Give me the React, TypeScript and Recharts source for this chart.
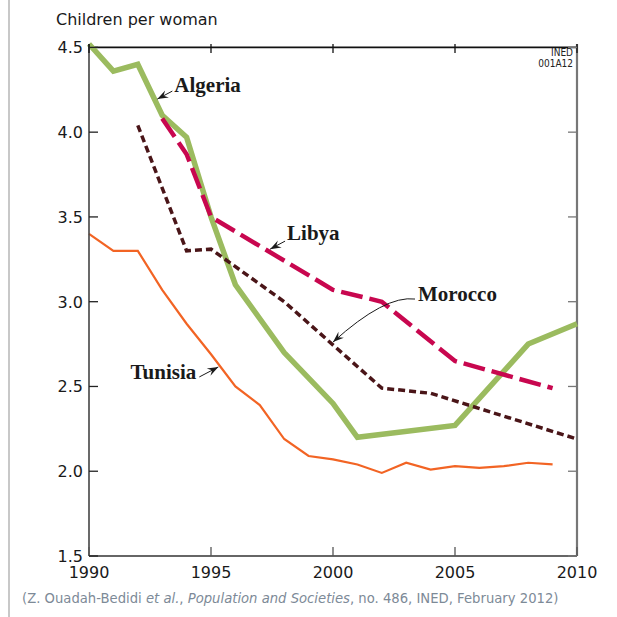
import React from "react";
import { LineChart, Line, XAxis, YAxis, ReferenceLine, ReferenceDot } from "recharts";

// Total fertility rate, Maghreb countries
const algeriaYears = [1990, 1991, 1992, 1993, 1994, 1995, 1996, 1998, 2000, 2001, 2005, 2008, 2010];
const algeriaTfr = [4.52, 4.36, 4.4, 4.1, 3.97, 3.5, 3.1, 2.7, 2.4, 2.2, 2.27, 2.75, 2.87];

const libyaYears = [1993, 1994, 1995, 2000, 2002, 2005, 2009];
const libyaTfr = [4.08, 3.87, 3.5, 3.07, 3.0, 2.65, 2.49];

const moroccoYears = [1992, 1994, 1995, 1998, 2002, 2004, 2010];
const moroccoTfr = [4.04, 3.3, 3.31, 3.0, 2.49, 2.46, 2.19];

const tunisiaYears = [
  1990, 1991, 1992, 1993, 1994, 1995, 1996, 1997, 1998, 1999,
  2000, 2001, 2002, 2003, 2004, 2005, 2006, 2007, 2008, 2009,
];
const tunisiaTfr = [
  3.4, 3.3, 3.3, 3.07, 2.87, 2.69, 2.5, 2.39, 2.19, 2.09,
  2.07, 2.04, 1.99, 2.05, 2.01, 2.03, 2.02, 2.03, 2.05, 2.04,
];

const xTicks = [1990, 1995, 2000, 2005, 2010];
const yTicks = [1.5, 2.0, 2.5, 3.0, 3.5, 4.0, 4.5];

const toRows = (years: number[], values: number[]) =>
  years.map((year, i) => ({ year, tfr: values[i] }));

const algeria = toRows(algeriaYears, algeriaTfr);
const libya = toRows(libyaYears, libyaTfr);
const morocco = toRows(moroccoYears, moroccoTfr);
const tunisia = toRows(tunisiaYears, tunisiaTfr);

const W = 617;
const H = 617;
const PLOT = { left: 89, top: 44, right: 577, bottom: 556 };
const AXIS_W = 40;
const AXIS_H = 30;
const TICK = 9;
const SANS = "'DejaVu Sans', sans-serif";
const SERIF = "'Liberation Serif', 'Times New Roman', serif";
const NARROW = "'Liberation Sans Narrow', 'DejaVu Sans Condensed', sans-serif";

const XTick = (props: any) => {
  const { x, payload } = props;
  return (
    <g>
      <line x1={x} x2={x} y1={PLOT.bottom} y2={PLOT.bottom - TICK} stroke="#555" strokeWidth={1.3} />
      <line x1={x} x2={x} y1={PLOT.top} y2={PLOT.top + TICK} stroke="#111" strokeWidth={1.3} />
      <text x={x} y={PLOT.bottom + 22} textAnchor="middle" fontFamily={SANS} fontSize={16} fill="#1a1a1a">
        {payload.value}
      </text>
    </g>
  );
};

const YTick = (props: any) => {
  const { y, payload } = props;
  return (
    <g>
      <line x1={PLOT.left} x2={PLOT.left + TICK} y1={y} y2={y} stroke="#222" strokeWidth={1.3} />
      <line x1={PLOT.right} x2={PLOT.right - TICK} y1={y} y2={y} stroke="#777" strokeWidth={1.3} />
      <text x={PLOT.left - 6} y={y + 6} textAnchor="end" fontFamily={SANS} fontSize={16} fill="#1a1a1a">
        {Number(payload.value).toFixed(1)}
      </text>
    </g>
  );
};

// arrowhead pointing at (tx, ty), coming from (fx, fy)
const head = (fx: number, fy: number, tx: number, ty: number) => {
  const len = Math.hypot(tx - fx, ty - fy) || 1;
  const ux = (tx - fx) / len;
  const uy = (ty - fy) / len;
  const nx = -uy;
  const ny = ux;
  const pts = [
    [tx, ty],
    [tx - 11 * ux + 4 * nx, ty - 11 * uy + 4 * ny],
    [tx - 7 * ux, ty - 7 * uy],
    [tx - 11 * ux - 4 * nx, ty - 11 * uy - 4 * ny],
  ];
  return <polygon points={pts.map((p) => p.join(",")).join(" ")} fill="#1a1a1a" />;
};

interface Note {
  name: string;
  year: number;
  value: number;
  tail: [number, number];
  ctrl?: [number, number];
  text: [number, number];
  anchor: "start" | "end";
}

// arrow tip sits on the series, text and tail are offsets from it
const notes: Note[] = [
  { name: "Algeria", year: 1992.8, value: 4.195, tail: [15, -8], text: [17, -7], anchor: "start" },
  { name: "Libya", year: 1997.42, value: 3.31, tail: [15, -8], text: [17, -9], anchor: "start" },
  { name: "Morocco", year: 2000.0, value: 2.762, tail: [82, -43], ctrl: [52, -47], text: [85, -41], anchor: "start" },
  { name: "Tunisia", year: 1995.3, value: 2.615, tail: [-19, 10], text: [-22, 12], anchor: "end" },
];

const Annotation = (props: any) => {
  const { cx, cy, note } = props as { cx: number; cy: number; note: Note };
  if (cx == null || cy == null) return null;
  const fx = cx + note.tail[0];
  const fy = cy + note.tail[1];
  const from = note.ctrl ? [cx + note.ctrl[0], cy + note.ctrl[1]] : [fx, fy];
  const d = note.ctrl
    ? `M${fx},${fy} Q${from[0]},${from[1]} ${cx},${cy}`
    : `M${fx},${fy} L${cx},${cy}`;
  return (
    <g>
      <path d={d} fill="none" stroke="#1a1a1a" strokeWidth={1} />
      {head(from[0], from[1], cx, cy)}
      <text
        x={cx + note.text[0]}
        y={cy + note.text[1]}
        textAnchor={note.anchor}
        fontFamily={SERIF}
        fontWeight="bold"
        fontSize={21}
        fill="#1a1a1a"
      >
        {note.name}
      </text>
    </g>
  );
};

export default function App() {
  return (
    <div style={{ position: "absolute", left: 0, top: 0, width: W, height: H, background: "#fff" }}>
      <div style={{ position: "absolute", left: 8, top: 0, width: 2, height: H, background: "#c8c8c8" }} />
      <div
        style={{
          position: "absolute",
          left: 56,
          top: 10,
          fontFamily: SANS,
          fontSize: 16,
          color: "#1a1a1a",
          whiteSpace: "nowrap",
        }}
      >
        Children per woman
      </div>
      <div
        style={{
          position: "absolute",
          right: W - 573,
          top: 47,
          fontFamily: NARROW,
          fontSize: 10,
          lineHeight: "11px",
          textAlign: "right",
          color: "#222",
        }}
      >
        <div>INED</div>
        <div>001A12</div>
      </div>
      <LineChart
        width={W}
        height={H}
        margin={{
          top: PLOT.top,
          left: PLOT.left - AXIS_W,
          right: W - PLOT.right,
          bottom: H - PLOT.bottom - AXIS_H,
        }}
      >
        <XAxis
          dataKey="year"
          type="number"
          domain={[1990, 2010]}
          ticks={xTicks}
          height={AXIS_H}
          tickLine={false}
          tick={<XTick />}
          axisLine={{ stroke: "#666", strokeWidth: 2 }}
          allowDuplicatedCategory={false}
        />
        <YAxis
          type="number"
          domain={[1.5, 4.5]}
          ticks={yTicks}
          width={AXIS_W}
          tickLine={false}
          tick={<YTick />}
          axisLine={{ stroke: "#444", strokeWidth: 1.6 }}
        />
        <ReferenceLine y={4.5} stroke="#111" strokeWidth={1.6} />
        <ReferenceLine x={2010} stroke="#777" strokeWidth={2.2} />

        <Line data={algeria} dataKey="tfr" type="linear" stroke="#9bbb5f" strokeWidth={5.5} dot={false} isAnimationActive={false} />
        <Line data={tunisia} dataKey="tfr" type="linear" stroke="#f26424" strokeWidth={2.2} dot={false} isAnimationActive={false} />
        <Line data={morocco} dataKey="tfr" type="linear" stroke="#4a1518" strokeWidth={3.5} strokeDasharray="7 4" dot={false} isAnimationActive={false} />
        <Line data={libya} dataKey="tfr" type="linear" stroke="#c8074f" strokeWidth={4.5} strokeDasharray="22 7" dot={false} isAnimationActive={false} />

        {notes.map((n) => (
          <ReferenceDot
            key={n.name}
            x={n.year}
            y={n.value}
            r={0}
            ifOverflow="visible"
            shape={(p: any) => <Annotation {...p} note={n} />}
          />
        ))}
      </LineChart>
      <div
        style={{
          position: "absolute",
          left: 22,
          top: 591,
          fontFamily: SANS,
          fontSize: 13.2,
          color: "#7d8a97",
          whiteSpace: "nowrap",
        }}
      >
        (Z. Ouadah-Bedidi <i>et al.</i>, <i>Population and Societies</i>, no. 486, INED, February 2012)
      </div>
    </div>
  );
}
